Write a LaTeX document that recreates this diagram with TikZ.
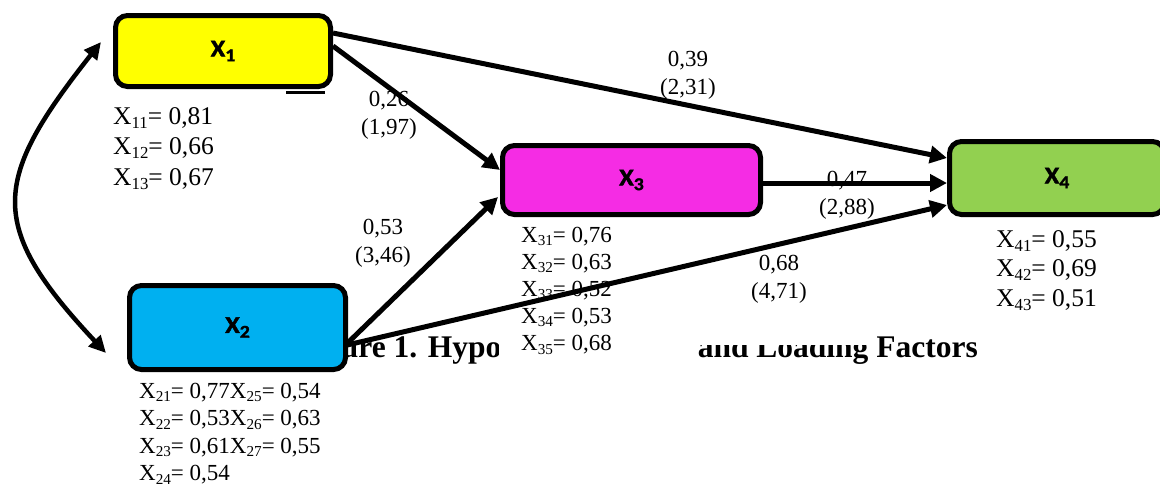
\documentclass[tikz,border=0pt]{standalone}
\usepackage{fontspec}
\setmainfont{Liberation Serif}
\newfontfamily\carl[BoldFeatures={FakeBold=1.5}]{Carlito}
\usetikzlibrary{arrows.meta,calc}
\newcommand\subx[1]{\raisebox{-0.17em}{\scalebox{0.66}{#1}}}
\newcommand\boxlab[1]{\scalebox{1.1}[1]{X\raisebox{-0.2em}{\scalebox{0.75}{#1}}}}
\definecolor{cyel}{HTML}{FFFF00}
\definecolor{cmag}{HTML}{F52CE4}
\definecolor{cblu}{HTML}{00B0F0}
\definecolor{cgrn}{HTML}{92D050}
\begin{document}
\begin{tikzpicture}[x=1pt,y=-1pt,
  box/.style={draw=black, line width=5pt, rounded corners=12pt, inner sep=0pt,
    font=\carl\bfseries\fontsize{24}{28}\selectfont},
  arr/.style={line width=5pt, -{Triangle[length=17pt,width=17pt]}},
  darr/.style={line width=4.5pt, {Triangle[length=17pt,width=16pt]}-{Triangle[length=17pt,width=16pt]}},
  coef/.style={align=center, inner sep=0pt, font=\fontsize{23}{28}\selectfont},
  ldbig/.style={anchor=base west, inner sep=0pt, font=\fontsize{25.5}{30}\selectfont},
  ldsml/.style={anchor=base west, inner sep=0pt, font=\fontsize{23}{27}\selectfont},
  capt/.style={inner sep=0pt, font=\bfseries\fontsize{31.5}{36}\selectfont}
]
\useasboundingbox (0,0) rectangle (1160,483);

% caption (partly hidden)
\node[capt, anchor=base west] (capA) at (297,357) {Figure 1. Hypothesized};
\node[capt, anchor=base east] (capB) at (978,357) {and Loading Factors};
\fill[white] (499,318) rectangle (693,372);
\fill[white] (693,290) rectangle (877,345);

% boxes
\node[box, fill=cyel, minimum width=215pt, minimum height=71pt] (x1) at (223,51) {\boxlab{1}};
\node[box, fill=cmag, minimum width=258pt, minimum height=69pt] (x3) at (631.5,180) {\boxlab{3}};
\node[box, fill=cblu, minimum width=216pt, minimum height=84pt] (x2) at (237.5,327.5) {\boxlab{2}};
\node[box, fill=cgrn, minimum width=215pt, minimum height=73pt] (x4) at (1057,178) {\boxlab{4}};
\draw[line width=3pt] ($(x1.south east)+(-47,3.5)$) -- ($(x1.south east)+(-8,3.5)$);

% loadings
\node[ldbig] (l11) at (113,124) {X\subx{11}= 0,81};
\node[ldbig] (l12) at (113,154.5) {X\subx{12}= 0,66};
\node[ldbig] (l13) at (113,185) {X\subx{13}= 0,67};

\node[ldsml] (l21) at (139,398) {X\subx{21}= 0,77X\subx{25}= 0,54};
\node[ldsml] (l22) at (139,425.5) {X\subx{22}= 0,53X\subx{26}= 0,63};
\node[ldsml] (l23) at (139,453) {X\subx{23}= 0,61X\subx{27}= 0,55};
\node[ldsml] (l24) at (139,480.5) {X\subx{24}= 0,54};

\node[ldsml] (l31) at (521,242) {X\subx{31}= 0,76};
\node[ldsml] (l32) at (521,269) {X\subx{32}= 0,63};
\node[ldsml] (l33) at (521,296) {X\subx{33}= 0,52};
\node[ldsml] (l34) at (521,323) {X\subx{34}= 0,53};
\node[ldsml] (l35) at (521,350.5) {X\subx{35}= 0,68};

\node[ldbig] (l41) at (996,247) {X\subx{41}= 0,55};
\node[ldbig] (l42) at (996,276.5) {X\subx{42}= 0,69};
\node[ldbig] (l43) at (996,306) {X\subx{43}= 0,51};

% path coefficients
\node[coef] (c14) at (688,75) {0,39\\(2,31)};
\node[coef] (c13) at (389,115.5) {0,26\\(1,97)};
\node[coef] (c23) at (383,243.5) {0,53\\(3,46)};
\node[coef] (c34) at (847,195.5) {0,47\\(2,88)};
\node[coef] (c24) at (779,279) {0,68\\(4,71)};

% connectors
\draw[arr] ($(x1.east)+(0,-18)$) -- ($(x4.west)+(0,-20)$);
\draw[arr] ($(x1.east)+(0,-5)$) -- ($(x3.west)+(0,-10)$);
\draw[arr] ($(x2.east)+(-3,18)$) -- ($(x3.west)+(-2,17)$);
\draw[arr] ($(x2.east)+(-3,18)$) -- ($(x4.west)+(0,27)$);
\draw[arr] ($(x3.east)+(0,3)$) -- ($(x4.west)+(0,5)$);
\draw[darr] ($(x1.west)+(-12,-9)$) .. controls (-8,180) and (-14,225) .. ($(x2.west)+(-21,25.5)$);
\end{tikzpicture}
\end{document}
